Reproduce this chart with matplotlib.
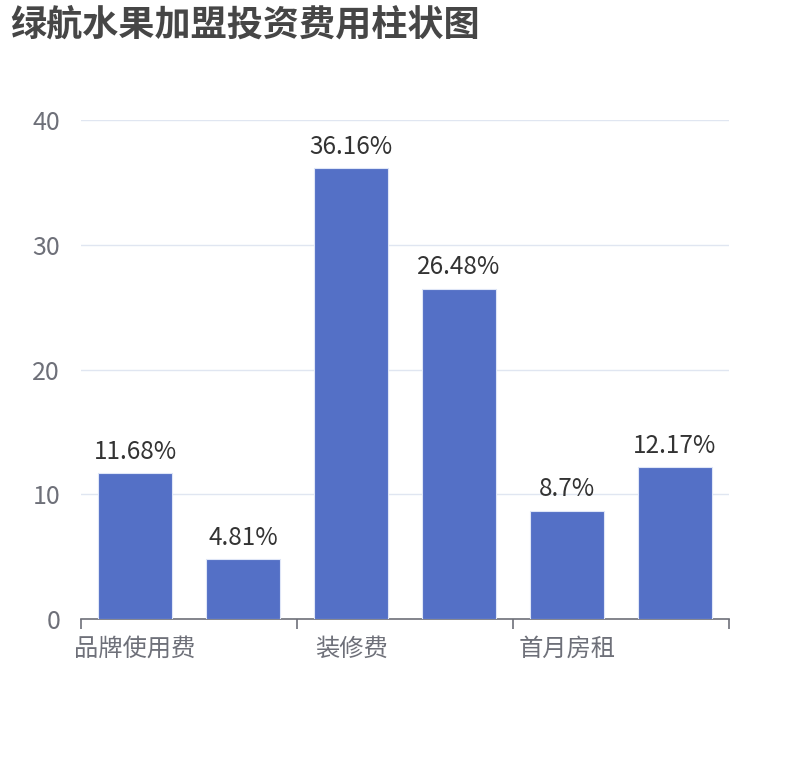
import matplotlib
matplotlib.use("Agg")
import matplotlib.pyplot as plt
from matplotlib.ticker import FixedLocator

plt.rcParams['font.family'] = ['Noto Sans CJK SC', 'DejaVu Sans']

# 数据
categories = ["品牌使用费", "加盟费", "装修费", "设备费", "首月房租", "流动资金"]
values = [11.68, 4.81, 36.16, 26.48, 8.7, 12.17]
shown_labels = ["品牌使用费", "", "装修费", "", "首月房租", ""]
y_ticks = [0, 10, 20, 30, 40]

fig = plt.figure(figsize=(8.1, 7.6), dpi=100)
ax = fig.add_axes([0.1, 0.1855, 0.8, 0.6565])

x = list(range(len(categories)))
bars = ax.bar(x, values, width=0.69, color="#5470C6", edgecolor="#dfe6f7",
              linewidth=0.8, zorder=3)
ax.bar_label(bars, labels=[f"{v}%" for v in values], padding=6,
             fontsize=17.5, color="#333333")

ax.set_xlim(-0.5, len(categories) - 0.5)
ax.set_ylim(0, 40)
ax.set_yticks(y_ticks)
ax.tick_params(axis="y", length=0, pad=15, labelsize=18, labelcolor="#6E7079")
ax.grid(axis="y", color="#E0E6F1", linewidth=1, zorder=0)

ax.set_xticks(x)
ax.set_xticklabels(shown_labels)
ax.tick_params(axis="x", which="major", length=0, pad=12, labelsize=17.5,
               labelcolor="#6E7079")
ax.xaxis.set_minor_locator(FixedLocator([-0.5, 1.5, 3.5, 5.5]))
ax.tick_params(axis="x", which="minor", length=7, width=1.2, color="#6E7079")

for s in ["top", "right", "left"]:
    ax.spines[s].set_visible(False)
ax.spines["bottom"].set_color("#6E7079")
ax.spines["bottom"].set_linewidth(1.2)

fig.text(10 / 810, 1 - 7 / 760, "绿航水果加盟投资费用柱状图", fontsize=26,
         fontweight="bold", color="#464646", ha="left", va="top")

fig.savefig("out.png", dpi=100, facecolor="white")
